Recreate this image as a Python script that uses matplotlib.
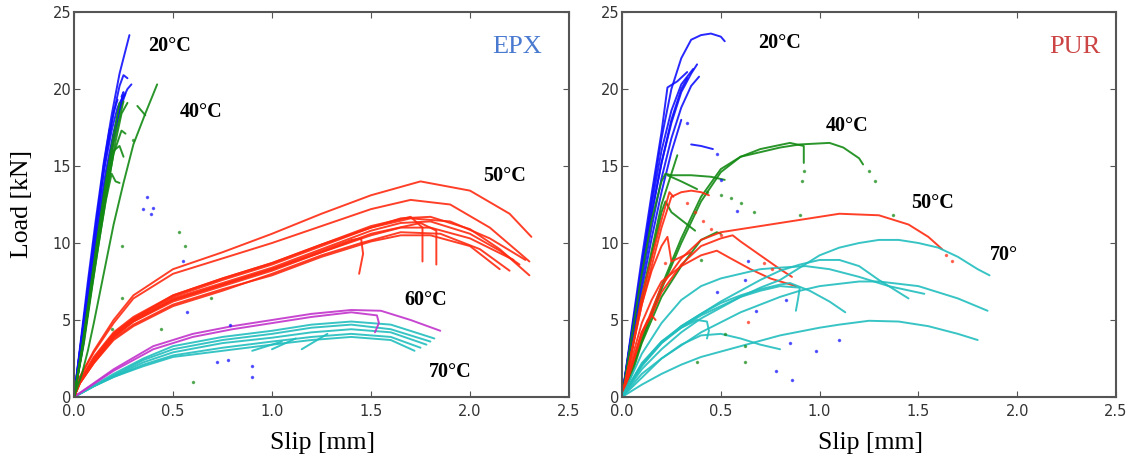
import matplotlib.pyplot as plt

# ---------------- EPX (left panel) ----------------
epx_20_x = [[0, 0.03, 0.07, 0.11, 0.15, 0.19, 0.23, 0.28],
            [0, 0.03, 0.07, 0.11, 0.15, 0.19, 0.23, 0.25, 0.27],
            [0, 0.04, 0.08, 0.12, 0.16, 0.2, 0.24, 0.27, 0.29],
            [0, 0.04, 0.08, 0.12, 0.16, 0.2, 0.23, 0.26],
            [0, 0.03, 0.07, 0.11, 0.15, 0.19, 0.22, 0.25],
            [0, 0.04, 0.08, 0.12, 0.16, 0.2, 0.23],
            [0, 0.04, 0.08, 0.12, 0.16, 0.2, 0.22],
            [0, 0.04, 0.08, 0.12, 0.15, 0.18],
            [0, 0.05, 0.09, 0.13, 0.17, 0.21, 0.25, 0.24]]
epx_20_y = [[0, 3.2, 7.5, 11.5, 15.2, 18.3, 21, 23.5],
            [0, 3, 7, 11, 14.8, 17.8, 20.2, 20.9, 20.7],
            [0, 3.5, 7.5, 11.3, 14.6, 17.2, 19.2, 20, 20.3],
            [0, 3.4, 7.2, 10.9, 14.2, 16.9, 18.6, 19.7],
            [0, 3, 7, 11, 14.6, 17.3, 18.8, 19.6],
            [0, 3.2, 7, 10.6, 14, 17, 18.8],
            [0, 4, 8, 12, 15.6, 18.5, 19.3],
            [0, 3.8, 8, 12, 15, 17.4],
            [0, 3.6, 7.4, 11, 14.4, 17.4, 19.8, 19.5]]

epx_40_x = [[0, 0.04, 0.08, 0.12, 0.16, 0.2, 0.25],
            [0, 0.04, 0.08, 0.12, 0.16, 0.2, 0.24, 0.26],
            [0, 0.04, 0.08, 0.12, 0.16, 0.19, 0.21, 0.23],
            [0, 0.04, 0.08, 0.12, 0.16, 0.2, 0.23],
            [0, 0.04, 0.08, 0.12, 0.16, 0.2, 0.23, 0.25],
            [0, 0.04, 0.07, 0.1, 0.15, 0.2, 0.25, 0.3, 0.36, 0.42],
            [0, 0.05, 0.09, 0.13, 0.17, 0.21, 0.24, 0.27],
            [0.32, 0.36]]
epx_40_y = [[0, 3, 6.6, 10.2, 13.6, 16.5, 19.2],
            [0, 3, 6.4, 9.8, 13, 15.8, 17.3, 17.1],
            [0, 3, 6.3, 9.6, 12.7, 14.5, 14.0, 13.9],
            [0, 3.2, 6.8, 10.5, 14, 17, 19.1],
            [0, 3, 6.5, 10, 13.3, 16.0, 16.3, 15.6],
            [0, 1.5, 3, 4.8, 8, 11.2, 13.9, 16.4, 18.4, 20.3],
            [0, 3.5, 7, 10.4, 13.6, 16.6, 18.4, 19.1],
            [18.9, 18.3]]

epx_50_x = [[0, 0.03, 0.1, 0.2, 0.3, 0.5, 0.75, 1.0, 1.25, 1.5, 1.75, 2.0, 2.2, 2.31],
            [0, 0.03, 0.1, 0.2, 0.3, 0.5, 0.75, 1.0, 1.25, 1.5, 1.7, 1.9, 2.1, 2.3],
            [0, 0.03, 0.1, 0.2, 0.3, 0.5, 0.75, 1.0, 1.25, 1.5, 1.65, 1.8, 2.0, 2.15, 2.3],
            [0, 0.03, 0.1, 0.2, 0.3, 0.5, 0.75, 1.0, 1.25, 1.5, 1.65, 1.8, 2.0, 2.15, 2.25],
            [0, 0.03, 0.1, 0.2, 0.3, 0.5, 0.75, 1.0, 1.25, 1.5, 1.65, 1.8, 2.0, 2.22],
            [0, 0.03, 0.1, 0.2, 0.3, 0.5, 0.75, 1.0, 1.25, 1.5, 1.65, 1.8, 2.0, 2.15],
            [0, 0.03, 0.1, 0.2, 0.3, 0.5, 0.75, 1.0, 1.25, 1.4, 1.45, 1.46, 1.44],
            [0, 0.03, 0.1, 0.2, 0.3, 0.5, 0.75, 1.0, 1.25, 1.5, 1.7, 1.76, 1.76],
            [0, 0.03, 0.1, 0.2, 0.3, 0.5, 0.75, 1.0, 1.25, 1.5, 1.75, 1.83, 1.83],
            [0, 0.03, 0.1, 0.2, 0.3, 0.5, 0.75, 1.0, 1.25, 1.5, 1.7, 1.9, 2.1, 2.28],
            [0, 0.03, 0.1, 0.2, 0.3, 0.5, 0.75, 1.0, 1.25, 1.45, 1.65, 1.85, 2.05, 2.2]]
epx_50_y = [[0, 1.3, 3.0, 5.0, 6.6, 8.3, 9.4, 10.6, 11.9, 13.1, 14.0, 13.4, 11.9, 10.4],
            [0, 1.3, 2.9, 4.8, 6.4, 8.0, 9.0, 10.0, 11.1, 12.2, 12.8, 12.5, 11.0, 8.8],
            [0, 1.0, 2.5, 4.1, 5.1, 6.5, 7.6, 8.6, 9.8, 11.0, 11.6, 11.7, 10.9, 9.6, 7.9],
            [0, 1.0, 2.4, 4.0, 5.0, 6.4, 7.4, 8.4, 9.6, 10.8, 11.3, 11.4, 10.6, 9.5, 8.6],
            [0, 1.0, 2.3, 3.9, 4.9, 6.2, 7.2, 8.2, 9.4, 10.5, 11.0, 11.0, 10.3, 8.9],
            [0, 0.9, 2.2, 3.8, 4.7, 6.0, 7.0, 7.9, 9.1, 10.1, 10.5, 10.5, 9.8, 8.3],
            [0, 1.0, 2.4, 4.0, 5.0, 6.3, 7.3, 8.3, 9.5, 10.2, 10.3, 9.3, 8.0],
            [0, 1.0, 2.5, 4.1, 5.1, 6.6, 7.7, 8.7, 9.9, 11.1, 11.7, 11.0, 8.8],
            [0, 0.9, 2.3, 3.9, 4.9, 6.3, 7.3, 8.3, 9.4, 10.6, 11.3, 10.8, 8.6],
            [0, 1.1, 2.6, 4.2, 5.2, 6.6, 7.7, 8.7, 9.9, 11.0, 11.6, 11.4, 10.3, 8.9],
            [0, 0.9, 2.2, 3.7, 4.6, 5.9, 6.9, 8.0, 9.2, 10.0, 10.7, 10.6, 9.6, 8.2]]

epx_60_x = [[0, 0.1, 0.2, 0.4, 0.6, 0.8, 1.0, 1.2, 1.4, 1.55, 1.7, 1.85],
            [0, 0.1, 0.2, 0.4, 0.6, 0.8, 1.0, 1.2, 1.4, 1.53, 1.54, 1.52]]
epx_60_y = [[0, 0.9, 1.8, 3.3, 4.1, 4.6, 5.0, 5.4, 5.65, 5.6, 5.0, 4.3],
            [0, 0.85, 1.7, 3.1, 3.9, 4.4, 4.8, 5.2, 5.5, 5.3, 4.8, 4.2]]

epx_70_x = [[0, 0.1, 0.2, 0.35, 0.5, 0.75, 1.0, 1.2, 1.4, 1.6, 1.82],
            [0, 0.1, 0.2, 0.35, 0.5, 0.75, 1.0, 1.2, 1.4, 1.6, 1.8],
            [0, 0.1, 0.2, 0.35, 0.5, 0.75, 1.0, 1.2, 1.4, 1.6, 1.78],
            [0, 0.1, 0.2, 0.35, 0.5, 0.75, 1.0, 1.2, 1.4, 1.6, 1.75],
            [0, 0.1, 0.2, 0.35, 0.5, 0.75, 1.0, 1.2, 1.4, 1.6, 1.72],
            [0.9, 1.05], [1.0, 1.12], [1.15, 1.28]]
epx_70_y = [[0, 0.75, 1.5, 2.5, 3.3, 3.9, 4.3, 4.7, 4.9, 4.7, 3.8],
            [0, 0.7, 1.4, 2.4, 3.1, 3.7, 4.1, 4.5, 4.7, 4.4, 3.6],
            [0, 0.7, 1.35, 2.25, 2.9, 3.5, 3.85, 4.2, 4.4, 4.2, 3.4],
            [0, 0.7, 1.3, 2.1, 2.7, 3.2, 3.6, 3.9, 4.1, 3.9, 3.2],
            [0, 0.7, 1.3, 2.0, 2.6, 3.0, 3.4, 3.7, 3.9, 3.7, 3.0],
            [3.0, 3.6], [3.1, 3.8], [3.1, 4.1]]

epx_dots_blue_x = [0.37, 0.35, 0.4, 0.39, 0.55, 0.57, 0.72, 0.78, 0.9, 0.9, 0.79]
epx_dots_blue_y = [13, 12.2, 12.3, 11.9, 8.8, 5.5, 2.3, 2.4, 1.3, 2.0, 4.7]
epx_dots_green_x = [0.24, 0.24, 0.53, 0.56, 0.44, 0.6, 0.69, 0.3, 0.19]
epx_dots_green_y = [9.8, 6.4, 10.7, 9.8, 4.4, 1.0, 6.4, 16.7, 4.4]

# ---------------- PUR (right panel) ----------------
pur_20_x = [[0, 0.05, 0.1, 0.15, 0.2, 0.25, 0.3, 0.35, 0.4, 0.45, 0.5, 0.52],
            [0, 0.05, 0.1, 0.15, 0.2, 0.25, 0.3, 0.35, 0.38],
            [0, 0.05, 0.1, 0.15, 0.2, 0.25, 0.3, 0.35, 0.39],
            [0, 0.05, 0.1, 0.15, 0.2, 0.25, 0.3, 0.36],
            [0, 0.05, 0.1, 0.15, 0.2, 0.25, 0.3, 0.33],
            [0, 0.05, 0.1, 0.15, 0.2, 0.25, 0.3],
            [0, 0.05, 0.1, 0.15, 0.2, 0.23, 0.28, 0.33],
            [0.35, 0.4, 0.46]]
pur_20_y = [[0, 4.2, 8.5, 12.8, 16.8, 20, 22, 23.2, 23.5, 23.6, 23.4, 23.1],
            [0, 4.2, 8.2, 12, 15.2, 17.8, 19.8, 21, 21.6],
            [0, 3.8, 7.5, 11, 14.2, 16.8, 18.8, 20.2, 20.8],
            [0, 4.3, 8.5, 12.5, 16, 18.6, 20.3, 21.3],
            [0, 4.1, 8, 11.8, 15.2, 18, 20, 20.7],
            [0, 3.5, 7, 10.3, 13.3, 15.9, 18.0],
            [0, 4.5, 9, 13.2, 17.2, 20.1, 20.5, 21.1],
            [16.4, 16.3, 16.1]]

pur_40_x = [[0, 0.1, 0.2, 0.3, 0.4, 0.5, 0.6, 0.8, 0.9, 1.05, 1.12, 1.2, 1.22],
            [0, 0.1, 0.2, 0.3, 0.4, 0.5, 0.6, 0.7, 0.85, 0.92, 0.92],
            [0, 0.05, 0.1, 0.15, 0.2, 0.22, 0.25, 0.35, 0.45, 0.52],
            [0.23, 0.3, 0.38],
            [0, 0.05, 0.1, 0.15, 0.2, 0.25, 0.28],
            [0, 0.1, 0.2, 0.22, 0.25, 0.3, 0.37],
            [0, 0.05, 0.1, 0.15, 0.2, 0.3, 0.4, 0.48, 0.5]]
pur_40_y = [[0, 3.8, 7.2, 10.3, 13.0, 14.8, 15.6, 16.2, 16.4, 16.5, 16.2, 15.5, 15.1],
            [0, 3.6, 7.0, 10.0, 12.7, 14.6, 15.6, 16.1, 16.5, 16.3, 15.2],
            [0, 4, 8, 11.5, 14, 14.5, 14.4, 14.4, 14.3, 14.1],
            [14.4, 14.0, 13.5],
            [0, 3, 6.5, 9.5, 12.5, 14.5, 15.7],
            [0, 6.3, 12.0, 12.7, 12.0, 11.5, 10.8],
            [0, 1.5, 3.5, 5, 6.5, 8.5, 10.2, 10.7, 10.6]]
pur_40_dots_x = [1.25, 1.28, 0.92, 0.91, 0.43, 0.5, 0.55, 0.6, 0.67, 0.9, 0.38, 0.62, 0.52, 0.62, 0.4, 1.37]
pur_40_dots_y = [14.7, 14.0, 14.7, 14.0, 13.3, 13.1, 12.9, 12.6, 12.0, 11.8, 2.3, 2.3, 4.1, 3.3, 8.9, 11.8]

pur_50_x = [[0, 0.05, 0.1, 0.15, 0.2, 0.25, 0.3, 0.35, 0.4, 0.44],
            [0, 0.05, 0.1, 0.2, 0.24, 0.26],
            [0, 0.05, 0.1, 0.2, 0.3, 0.4, 0.5, 0.7, 0.9, 1.1, 1.3, 1.45, 1.55, 1.62],
            [0, 0.05, 0.1, 0.15, 0.2, 0.3, 0.4, 0.5, 0.56, 0.6, 0.7, 0.8, 0.86],
            [0, 0.05, 0.1, 0.15, 0.2, 0.3, 0.4, 0.48, 0.55, 0.65, 0.75, 0.88],
            [0, 0.05, 0.1, 0.15, 0.2, 0.23, 0.25, 0.3, 0.35],
            [0, 0.05, 0.1, 0.13, 0.15, 0.17]]
pur_50_y = [[0, 3, 6, 8.5, 11, 13, 13.3, 13.4, 13.3, 13.1],
            [0, 3, 6.5, 11.5, 13.3, 13.0],
            [0, 2, 4, 7.2, 9, 10.2, 10.7, 11.1, 11.5, 11.9, 11.8, 11.2, 10.4, 9.6],
            [0, 2, 4.2, 5.3, 6.8, 8.6, 9.8, 10.3, 10.5, 10.1, 9.2, 8.3, 7.8],
            [0, 2.5, 4.8, 6.3, 7.5, 8.5, 9.2, 9.5, 9.0, 8.3, 7.7, 7.2],
            [0, 3, 6, 8.2, 9.8, 10.4, 8.8, 9.1, 9.4],
            [0, 2.2, 4.2, 5.0, 5.3, 5.0]]
pur_50_dots_x = [0.33, 0.37, 0.41, 0.45, 0.5, 1.64, 1.67, 0.64, 0.22, 0.72, 0.76]
pur_50_dots_y = [12.6, 12.0, 11.4, 10.9, 10.5, 9.2, 8.8, 4.9, 8.7, 8.7, 8.3]

pur_70_x = [[0, 0.1, 0.2, 0.3, 0.4, 0.5, 0.6, 0.7, 0.8, 0.9, 1.0, 1.1, 1.2, 1.3, 1.4, 1.5, 1.6, 1.7, 1.8, 1.86],
            [0, 0.1, 0.2, 0.3, 0.4, 0.5, 0.6, 0.7, 0.8, 0.9, 1.0, 1.1, 1.2, 1.3, 1.45],
            [0, 0.1, 0.2, 0.3, 0.4, 0.5, 0.6, 0.7, 0.8, 0.93, 1.05, 1.2, 1.35, 1.53],
            [0, 0.2, 0.4, 0.6, 0.8, 0.9, 1.0, 1.2, 1.3, 1.5, 1.7, 1.85],
            [0, 0.1, 0.2, 0.3, 0.4, 0.5, 0.6, 0.7, 0.8, 0.85, 0.95, 1.05, 1.13],
            [0, 0.1, 0.2, 0.3, 0.4, 0.5, 0.6, 0.7, 0.8, 0.9, 0.89, 0.88],
            [0, 0.1, 0.2, 0.3, 0.38, 0.43, 0.44, 0.43],
            [0, 0.1, 0.2, 0.3, 0.4, 0.5, 0.6, 0.7, 0.8],
            [0, 0.1, 0.2, 0.3, 0.4, 0.6, 0.8, 1.0, 1.1, 1.25, 1.4, 1.55, 1.7, 1.8]]
pur_70_y = [[0, 1.8, 3.1, 4.2, 5.1, 5.8, 6.5, 7.1, 7.6, 8.4, 9.2, 9.7, 10.0, 10.2, 10.2, 10.0, 9.7, 9.1, 8.3, 7.9],
            [0, 2.2, 3.6, 4.6, 5.4, 6.2, 6.9, 7.6, 8.2, 8.6, 8.9, 8.9, 8.5, 7.6, 6.4],
            [0, 2.8, 4.8, 6.3, 7.2, 7.7, 8.0, 8.3, 8.4, 8.5, 8.3, 7.8, 7.2, 6.7],
            [0, 2.5, 4.2, 5.5, 6.5, 6.9, 7.2, 7.5, 7.5, 7.2, 6.4, 5.6],
            [0, 2.0, 3.5, 4.6, 5.4, 6.1, 6.6, 7.0, 7.3, 7.4, 6.9, 6.2, 5.5],
            [0, 2.1, 3.5, 4.5, 5.3, 5.9, 6.5, 6.9, 7.2, 7.1, 6.3, 5.6],
            [0, 2.1, 3.6, 4.5, 5.0, 4.9, 4.3, 3.8],
            [0, 1.5, 2.5, 3.4, 4.0, 4.1, 3.8, 3.4, 3.1],
            [0, 0.8, 1.5, 2.1, 2.6, 3.3, 4.0, 4.5, 4.7, 4.95, 4.9, 4.6, 4.1, 3.7]]
pur_dots_blue_x = [0.5, 0.58, 0.64, 0.62, 0.48, 0.68, 0.83, 0.85, 0.98, 1.1, 0.78, 0.86, 0.48, 0.33]
pur_dots_blue_y = [14.1, 12.1, 8.8, 7.6, 6.8, 5.6, 6.3, 3.5, 3.0, 3.7, 1.7, 1.1, 15.8, 17.8]

# ---------------- styles ----------------
BLUE = '#1010ff'
GREEN = '#138a13'
RED = '#ff2a10'
MAGENTA = '#c233cc'
CYAN = '#22bebe'
SERIF = ['Liberation Serif', 'DejaVu Serif']


def draw(ax, xs, ys, color):
    for x, y in zip(xs, ys):
        ax.plot(x, y, color=color, lw=1.4, alpha=0.9, solid_capstyle='round',
                solid_joinstyle='round')


def style(ax):
    ax.set_xlim(0, 2.5)
    ax.set_ylim(0, 25)
    ax.set_xticks([0, 0.5, 1.0, 1.5, 2.0, 2.5])
    ax.set_xticklabels(['0.0', '0.5', '1.0', '1.5', '2.0', '2.5'])
    ax.set_yticks([0, 5, 10, 15, 20, 25])
    ax.tick_params(direction='in', top=True, right=True, length=4, width=0.8,
                   labelsize=10.5, labelcolor='#333333', color='#555555')
    ax.tick_params(axis='x', pad=5)
    ax.tick_params(axis='y', pad=2)
    for s in ax.spines.values():
        s.set_color('#555555')
        s.set_linewidth(1.5)
    ax.set_xlabel('Slip [mm]', family=SERIF, fontsize=18.5)
    ax.xaxis.set_label_coords(0.503, -0.09)


fig = plt.figure(figsize=(11.31, 4.57), dpi=100)
ax1 = fig.add_axes([74 / 1131, 60 / 457, 495 / 1131, 385 / 457])
ax2 = fig.add_axes([622 / 1131, 60 / 457, 494 / 1131, 385 / 457])

# left: EPX
draw(ax1, epx_70_x, epx_70_y, CYAN)
draw(ax1, epx_60_x, epx_60_y, MAGENTA)
draw(ax1, epx_50_x, epx_50_y, RED)
draw(ax1, epx_20_x, epx_20_y, BLUE)
draw(ax1, epx_40_x, epx_40_y, GREEN)
ax1.plot(epx_dots_blue_x, epx_dots_blue_y, 'o', ms=1.5, color=BLUE, alpha=0.6)
ax1.plot(epx_dots_green_x, epx_dots_green_y, 'o', ms=1.5, color=GREEN, alpha=0.6)
style(ax1)
ax1.set_ylabel('Load [kN]', family=SERIF, fontsize=18.5)
ax1.yaxis.set_label_coords(-0.082, 0.5)

lab = dict(family=SERIF, fontsize=14.5, fontweight='bold', ha='left', va='center')
ax1.text(0.374, 22.8, '20°C', **lab)
ax1.text(0.535, 18.5, '40°C', **lab)
ax1.text(2.066, 14.35, '50°C', **lab)
ax1.text(1.67, 6.3, '60°C', **lab)
ax1.text(1.79, 1.6, '70°C', **lab)
ax1.text(2.11, 22.7, 'EPX', family=SERIF, fontsize=19, color='#4a7ad0', ha='left', va='center')

# right: PUR
draw(ax2, pur_20_x, pur_20_y, BLUE)
draw(ax2, pur_40_x, pur_40_y, GREEN)
draw(ax2, pur_50_x, pur_50_y, RED)
draw(ax2, pur_70_x, pur_70_y, CYAN)
ax2.plot(pur_40_dots_x, pur_40_dots_y, 'o', ms=1.5, color=GREEN, alpha=0.6)
ax2.plot(pur_50_dots_x, pur_50_dots_y, 'o', ms=1.5, color=RED, alpha=0.6)
ax2.plot(pur_dots_blue_x, pur_dots_blue_y, 'o', ms=1.5, color=BLUE, alpha=0.6)
style(ax2)

ax2.text(0.69, 23.0, '20°C', **lab)
ax2.text(1.03, 17.6, '40°C', **lab)
ax2.text(1.465, 12.6, '50°C', **lab)
ax2.text(1.86, 9.2, '70°', **lab)
ax2.text(2.16, 22.7, 'PUR', family=SERIF, fontsize=19, color='#cc4444', ha='left', va='center')

fig.savefig('out.png', dpi=100)
